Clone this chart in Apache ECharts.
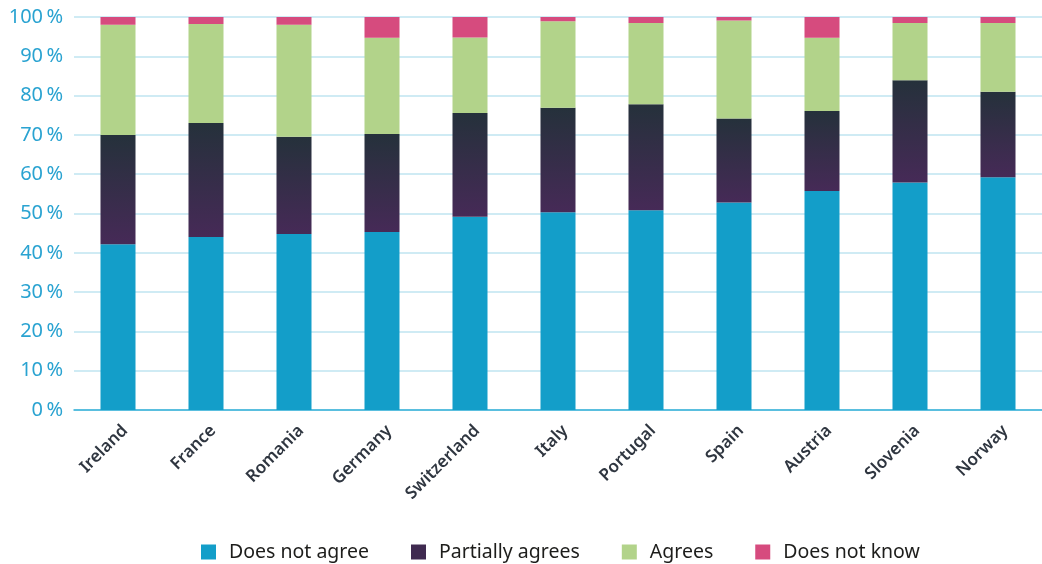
<!DOCTYPE html>
<html><head><meta charset="utf-8">
<script src="https://cdn.jsdelivr.net/npm/echarts@6/dist/echarts.min.js"></script>
<style>html,body{margin:0;padding:0;background:#fff}#c{width:1042px;height:564px}</style>
</head><body><div id="c"></div>
<script>
const categories = ['Ireland','France','Romania','Germany','Switzerland','Italy','Portugal','Spain','Austria','Slovenia','Norway'];
const doesNotAgree = [42.2, 44.0, 44.8, 45.3, 49.2, 50.3, 50.8, 52.8, 55.7, 57.9, 59.2];
const partiallyAgrees = [27.8, 29.0, 24.7, 24.9, 26.4, 26.6, 27.0, 21.4, 20.4, 26.0, 21.8];
const agrees = [28.0, 25.2, 28.5, 24.5, 19.2, 22.0, 20.7, 24.9, 18.6, 14.6, 17.5];
const doesNotKnow = [2.0, 1.8, 2.0, 5.3, 5.2, 1.1, 1.5, 0.9, 5.3, 1.5, 1.5];
const seriesNames = ['Does not agree','Partially agrees','Agrees','Does not know'];

const chart = echarts.init(document.getElementById('c'), null, {renderer:'canvas'});
const partialGrad = new echarts.graphic.LinearGradient(0,0,0,1,[{offset:0,color:'#25313b'},{offset:1,color:'#462a57'}]);
function mk(name, data, color){
  return {name, type:'bar', stack:'s', data, barWidth:35, itemStyle:{color}, emphasis:{disabled:true}};
}
chart.setOption({
  animation:false,
  grid:{left:74, top:17, width:970.5, height:393, containLabel:false},
  legend:{
    top:537, left:196, itemWidth:15, itemHeight:15, itemGap:42,
    icon:'rect',
    textStyle:{fontFamily:'Noto Sans', fontSize:19.5, color:'#1d1d1b', padding:[0,0,0,8]},
    data:[
      {name:'Does not agree', itemStyle:{color:'#139ec9'}},
      {name:'Partially agrees', itemStyle:{color:'#3f2a50'}},
      {name:'Agrees', itemStyle:{color:'#b2d38a'}},
      {name:'Does not know', itemStyle:{color:'#d64b7e'}}
    ]
  },
  xAxis:{
    type:'category', data:categories,
    axisLine:{lineStyle:{color:'#35b1d8', width:1.5}},
    axisTick:{show:false},
    axisLabel:{rotate:45, interval:0, margin:25, padding:[0,-10,0,0], fontFamily:'Noto Sans', fontSize:17, fontWeight:600, color:'#2f3640'}
  },
  yAxis:{
    type:'value', min:0, max:100, interval:10,
    axisLine:{show:false}, axisTick:{show:false},
    splitLine:{lineStyle:{color:'#bfe5f0', width:1.5}},
    axisLabel:{margin:11, fontFamily:'Noto Sans', fontSize:20, color:'#2aa3d1', formatter:v=>v+'\u2009%'}
  },
  series:[
    mk(seriesNames[0], doesNotAgree, '#139ec9'),
    mk(seriesNames[1], partiallyAgrees, partialGrad),
    mk(seriesNames[2], agrees, '#b2d38a'),
    mk(seriesNames[3], doesNotKnow, '#d64b7e')
  ]
});
</script></body></html>
